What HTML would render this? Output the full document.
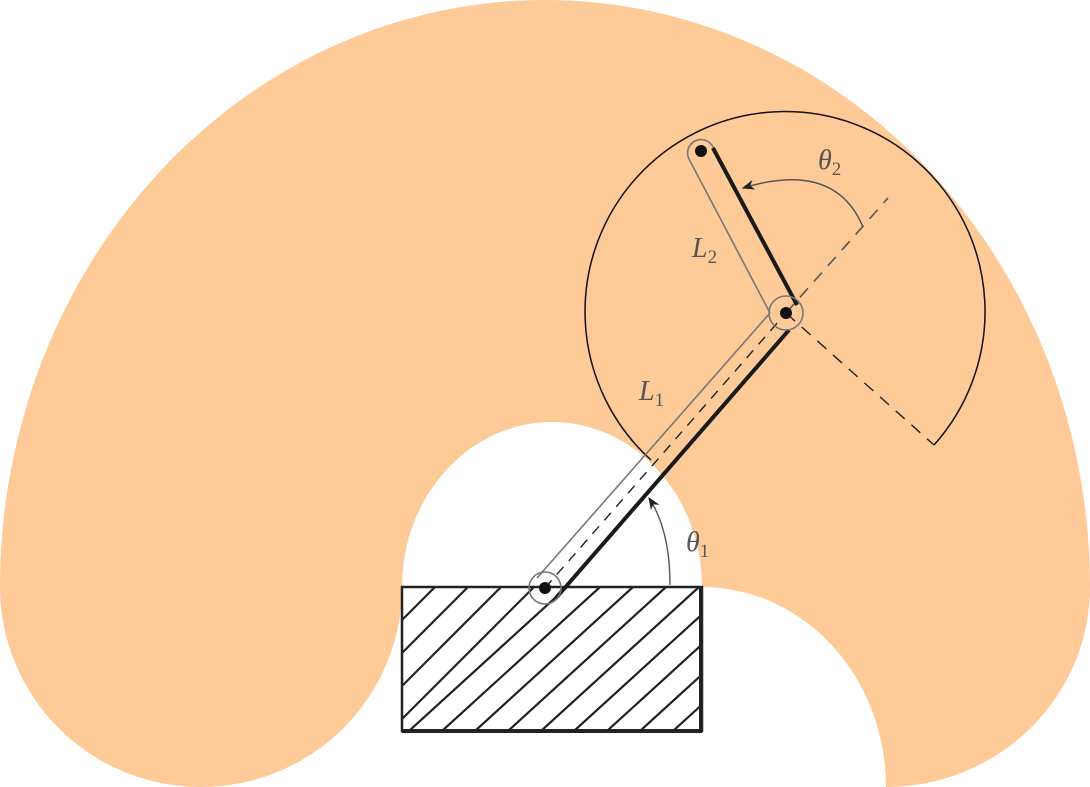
<!DOCTYPE html>
<html><head><meta charset="utf-8">
<style>
html,body{margin:0;padding:0;background:#fff;}
svg{display:block;}
.lbl{font-family:"Liberation Serif",serif;font-style:italic;fill:#555;font-size:28px;}
.sub{font-style:normal;font-size:19px;}
</style></head>
<body>
<svg width="1090" height="787" viewBox="0 0 1090 787" xmlns="http://www.w3.org/2000/svg">
<defs>
<clipPath id="boxclip"><rect x="402" y="587" width="300" height="144"/></clipPath>
<marker id="arr" viewBox="0 0 10 10" refX="9" refY="5" markerWidth="9" markerHeight="9" orient="auto"><path d="M0,1 L10,5 L0,9 L3,5 Z" fill="#222"/></marker>
</defs>
<g fill="#FDCA98">
<path fill-rule="evenodd" d="M0,587 A545,587 0 0 1 1090,587 Z M402,587 A150,165 0 0 1 702,587 Z"/>
<path d="M0,587 A201,200 0 0 0 402,587 Z"/>
<path d="M702,587 L1090,587 A204,200 0 0 1 886,787 A184,200 0 0 0 702,587 Z"/>
</g>
<g>
<rect x="402" y="587" width="300" height="144" fill="#fff"/>
<g clip-path="url(#boxclip)" stroke="#222" stroke-width="2.2">
<path d="M402,620 L435,587 M402,653 L468,587 M402,686 L501,587 M402,719 L534,587 M409,731 L567,587 M442,731 L600,587 M475,731 L633,587 M508,731 L666,587 M541,731 L699,587 M574,731 L732,587 M607,731 L765,587 M640,731 L798,587 M673,731 L831,587"/>
</g>
<rect x="402" y="587" width="300" height="144" fill="none" stroke="#222" stroke-width="2.5"/>
<line x1="701" y1="587" x2="701" y2="732" stroke="#222" stroke-width="4"/>
<line x1="402" y1="731" x2="702" y2="731" stroke="#222" stroke-width="4"/>
</g>
<path d="M934,445 A200,200 0 1 0 651,460" fill="none" stroke="#111" stroke-width="1.5"/>
<line x1="786" y1="313" x2="934" y2="445" stroke="#222" stroke-width="1.4" stroke-dasharray="12,9"/>
<line x1="786" y1="313" x2="888" y2="198" stroke="#555" stroke-width="1.6" stroke-dasharray="12,9"/>
<g>
<line x1="545" y1="588" x2="786" y2="313" stroke="#222" stroke-width="1.4" stroke-dasharray="10,8"/>
<line x1="537" y1="578" x2="770" y2="313" stroke="#777" stroke-width="1.6"/>
<line x1="556" y1="598" x2="789" y2="330" stroke="#1a1a1a" stroke-width="4"/>
</g>
<g>
<path d="M770,313 L689,159 A13,13 0 0 1 713,147 L797,305" fill="none" stroke="#777" stroke-width="1.6"/>
<line x1="713" y1="148" x2="797" y2="305" stroke="#1a1a1a" stroke-width="4"/>
</g>
<g>
<circle cx="545" cy="588" r="16" fill="none" stroke="#777" stroke-width="1.6"/>
<circle cx="545" cy="588" r="6" fill="#111"/>
</g>
<g>
<circle cx="786" cy="313" r="17" fill="none" stroke="#777" stroke-width="1.6"/>
<circle cx="786" cy="313" r="6" fill="#111"/>
</g>
<circle cx="701" cy="151" r="6" fill="#111"/>
<path d="M670,585 Q670,530 649,498" fill="none" stroke="#555" stroke-width="1.4" marker-end="url(#arr)"/>
<path d="M863,227 Q835,160 743,188" fill="none" stroke="#555" stroke-width="1.4" marker-end="url(#arr)"/>
<text class="lbl" x="686" y="551">θ<tspan class="sub" dy="6">1</tspan></text>
<text class="lbl" x="818" y="169">θ<tspan class="sub" dy="6">2</tspan></text>
<text class="lbl" x="639" y="400">L<tspan class="sub" dy="6">1</tspan></text>
<text class="lbl" x="692" y="257">L<tspan class="sub" dy="6">2</tspan></text>
</svg>
</body></html>
